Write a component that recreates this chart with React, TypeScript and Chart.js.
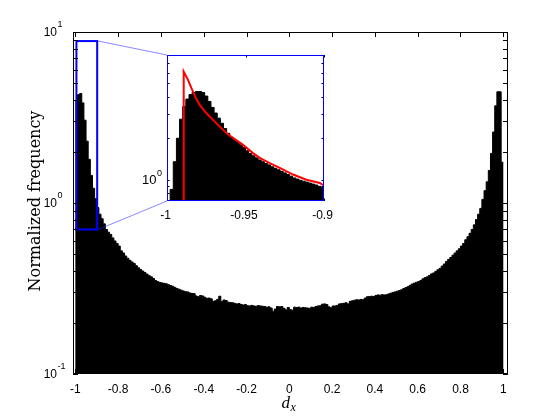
import React, { useEffect, useRef } from "react";
import { Chart, registerables } from "chart.js";

Chart.register(...registerables);

const W = 560;
const H = 420;

// ---------------- data ----------------
const MAIN_BIN_START = -1;
const MAIN_BIN_WIDTH = 0.01;
const MAIN_FREQ = [
  3.95, 4.3, 4.37, 3.85, 3.05, 2.3, 1.8, 1.45, 1.22, 1.06,
  0.94, 0.86, 0.81, 0.755, 0.7, 0.675, 0.655, 0.625, 0.6, 0.58,
  0.56, 0.525, 0.51, 0.49, 0.475, 0.462, 0.452, 0.443, 0.43, 0.418,
  0.408, 0.4, 0.392, 0.384, 0.376, 0.37, 0.362, 0.352, 0.347, 0.343,
  0.341, 0.339, 0.337, 0.333, 0.329, 0.326, 0.321, 0.316, 0.313, 0.309,
  0.306, 0.303, 0.302, 0.298, 0.296, 0.295, 0.286, 0.283, 0.288, 0.286,
  0.281, 0.277, 0.278, 0.275, 0.266, 0.268, 0.273, 0.285, 0.265, 0.271,
  0.269, 0.263, 0.262, 0.261, 0.259, 0.257, 0.258, 0.255, 0.253, 0.255,
  0.251, 0.25, 0.252, 0.25, 0.249, 0.251, 0.25, 0.249, 0.248, 0.246,
  0.247, 0.243, 0.233, 0.24, 0.248, 0.247, 0.248, 0.242, 0.237, 0.245,
  0.238, 0.236, 0.246, 0.245, 0.246, 0.243, 0.245, 0.244, 0.243, 0.242,
  0.246, 0.245, 0.248, 0.25, 0.251, 0.256, 0.257, 0.255, 0.247, 0.244,
  0.25, 0.25, 0.252, 0.257, 0.258, 0.259, 0.261, 0.257, 0.266, 0.268,
  0.27, 0.272, 0.271, 0.273, 0.272, 0.278, 0.283, 0.284, 0.285, 0.284,
  0.288, 0.29, 0.289, 0.291, 0.29, 0.291, 0.294, 0.297, 0.3, 0.302,
  0.305, 0.308, 0.311, 0.316, 0.32, 0.324, 0.33, 0.336, 0.34, 0.344,
  0.347, 0.352, 0.36, 0.366, 0.37, 0.377, 0.385, 0.39, 0.398, 0.407,
  0.415, 0.428, 0.44, 0.455, 0.468, 0.48, 0.495, 0.51, 0.525, 0.54,
  0.56, 0.58, 0.61, 0.635, 0.665, 0.7, 0.745, 0.8, 0.86, 0.93,
  1.05, 1.18, 1.33, 1.55, 1.95, 2.6, 3.7, 4.47, 4.47, 1.73,
];

const INSET_BIN_START = -1;
const INSET_BIN_WIDTH = 0.002;
const INSET_FREQ = [
  0.1, 0.85, 1.35, 2.0, 2.75, 3.4, 3.85, 4.15, 4.3, 4.37,
  4.37, 4.3, 4.05, 3.7, 3.35, 3.05, 2.8, 2.57, 2.35, 2.17,
  2.04, 1.95, 1.87, 1.79, 1.71, 1.62, 1.55, 1.49, 1.44, 1.39,
  1.35, 1.31, 1.28, 1.24, 1.21, 1.18, 1.15, 1.12, 1.09, 1.06,
  1.03, 1.01, 0.99, 0.975, 0.96, 0.945, 0.93, 0.915, 0.895, 0.88,
];

const FIT_X = [
  -0.98936, -0.98936, -0.98662, -0.98446, -0.98127, -0.97917, -0.9749,
  -0.9707, -0.96643, -0.96217, -0.95796, -0.95159, -0.94522, -0.94096,
  -0.93459, -0.92822, -0.91975, -0.91121, -0.90274, -0.9,
];
const FIT_Y = [
  0.704, 6.09, 5.31, 4.62, 3.85, 3.49, 3.04,
  2.72, 2.43, 2.18, 2.01, 1.79, 1.56, 1.44,
  1.32, 1.22, 1.09, 1.0, 0.946, 0.905,
];

const MAIN_X_MIN = -1.011;
const MAIN_X_MAX = 1.022;
const MAIN_Y_MIN = 0.1;
const MAIN_Y_MAX = 10;
const MAIN_X_TICKS = [-1, -0.8, -0.6, -0.4, -0.2, 0, 0.2, 0.4, 0.6, 0.8, 1];
const MAIN_X_LABELS = ["-1", "-0.8", "-0.6", "-0.4", "-0.2", "0", "0.2", "0.4", "0.6", "0.8", "1"];
const MAIN_Y_EXPONENTS = [-1, 0, 1];

const INSET_X_MIN = -1;
const INSET_X_MAX = -0.9;
const INSET_Y_MIN = 0.704;
const INSET_Y_MAX = 8.05;
const INSET_X_TICKS = [-1, -0.95, -0.9];
const INSET_X_LABELS = ["-1", "-0.95", "-0.9"];
const INSET_Y_EXPONENTS = [0];

const ZOOM_X = [-0.995, -0.898];
const ZOOM_Y = [0.7, 8.85];

const X_TITLE_MAIN = "d";
const X_TITLE_SUB = "x";
const Y_TITLE = "Normalized frequency";

// ---------------- layout ----------------
const MAIN_PAD = { left: 73, right: 52, top: 32, bottom: 46 };
const INSET_BOX = { left: 167, top: 55, right: 324, bottom: 201 };

const SANS = '"Liberation Sans", Arial, sans-serif';
const SERIF = '"DejaVu Serif", serif';
const MATH = '"Liberation Serif", "Times New Roman", serif';

// step points: one point at each bin's left edge plus the final right edge
function stepPoints(start: number, width: number, freq: number[]) {
  const pts = freq.map((v, i) => ({ x: start + i * width, y: v }));
  pts.push({ x: start + freq.length * width, y: freq[freq.length - 1] });
  return pts;
}

function logTickValues(min: number, max: number) {
  const out: number[] = [];
  const k0 = Math.floor(Math.log10(min));
  const k1 = Math.ceil(Math.log10(max));
  for (let k = k0; k <= k1; k++) {
    for (let m = 1; m <= 9; m++) {
      const v = m * Math.pow(10, k);
      if (v >= min * 0.9999 && v <= max * 1.0001) out.push(v);
    }
  }
  return out;
}

function drawPow10(
  ctx: CanvasRenderingContext2D,
  exp: number,
  xRight: number,
  y: number,
  big: number,
  small: number,
  baseOff: number,
  supOff: number
) {
  ctx.fillStyle = "#000";
  ctx.textBaseline = "alphabetic";
  ctx.font = `${big}px ${SANS}`;
  ctx.textAlign = "right";
  ctx.fillText("10", xRight, y + baseOff);
  ctx.font = `${small}px ${SANS}`;
  ctx.textAlign = "left";
  ctx.fillText(String(exp), xRight + 0.5, y + supOff);
}

// fills the area under a stepped histogram line as one single polygon (no seams)
const histFill = {
  id: "histFill",
  beforeDatasetDraw(chart: any, args: any) {
    const ds = chart.data.datasets[args.index];
    if (ds.label !== "histogram") return;
    const line = args.meta.dataset;
    const pts = args.meta.data;
    if (!line || !pts.length) return;
    const a = chart.chartArea;
    const ctx = chart.ctx;
    ctx.save();
    ctx.beginPath();
    ctx.rect(a.left, a.top, a.right - a.left, a.bottom - a.top);
    ctx.clip();
    ctx.beginPath();
    line.path(ctx);
    ctx.lineTo(pts[pts.length - 1].x, a.bottom + 2);
    ctx.lineTo(pts[0].x, a.bottom + 2);
    ctx.closePath();
    ctx.fillStyle = "#000";
    ctx.fill();
    ctx.restore();
  },
};

const mainDecor = {
  id: "mainDecor",
  afterDraw(chart: any) {
    const { ctx, chartArea: a, scales } = chart;
    const xs = scales.x;
    const ys = scales.y;
    ctx.save();

    const rx1 = xs.getPixelForValue(ZOOM_X[0]);
    const rx2 = xs.getPixelForValue(ZOOM_X[1]);
    const ry1 = ys.getPixelForValue(ZOOM_Y[1]);
    const ry2 = ys.getPixelForValue(ZOOM_Y[0]);

    // connector lines to the inset
    ctx.strokeStyle = "rgba(40,40,255,0.55)";
    ctx.lineWidth = 1;
    ctx.beginPath();
    ctx.moveTo(rx2 + 1, ry1);
    ctx.lineTo(INSET_BOX.left, INSET_BOX.top);
    ctx.moveTo(rx2 + 1, ry2);
    ctx.lineTo(INSET_BOX.left, INSET_BOX.bottom);
    ctx.stroke();

    // zoom rectangle
    ctx.strokeStyle = "#0000ff";
    ctx.lineWidth = 2;
    ctx.strokeRect(rx1, ry1, rx2 - rx1, ry2 - ry1);

    // frame
    ctx.strokeStyle = "#000";
    ctx.lineWidth = 1;
    ctx.strokeRect(a.left + 0.5, a.top + 0.5, a.right - a.left - 1, a.bottom - a.top - 1);

    // inward ticks
    const TL = 5;
    ctx.beginPath();
    for (const t of MAIN_X_TICKS) {
      const px = Math.round(xs.getPixelForValue(t)) + 0.5;
      ctx.moveTo(px, a.bottom);
      ctx.lineTo(px, a.bottom - TL);
      ctx.moveTo(px, a.top);
      ctx.lineTo(px, a.top + TL);
    }
    for (const v of logTickValues(MAIN_Y_MIN, MAIN_Y_MAX)) {
      const py = Math.round(ys.getPixelForValue(v)) + 0.5;
      ctx.moveTo(a.left, py);
      ctx.lineTo(a.left + TL, py);
      ctx.moveTo(a.right, py);
      ctx.lineTo(a.right - TL, py);
    }
    ctx.stroke();

    // x tick labels
    ctx.fillStyle = "#000";
    ctx.font = `12px ${SANS}`;
    ctx.textAlign = "center";
    ctx.textBaseline = "alphabetic";
    MAIN_X_TICKS.forEach((t, i) => {
      ctx.fillText(MAIN_X_LABELS[i], xs.getPixelForValue(t), a.bottom + 18.5);
    });

    // y tick labels
    for (const e of MAIN_Y_EXPONENTS) {
      const py = ys.getPixelForValue(Math.pow(10, e));
      drawPow10(ctx, e, 57, py, 12, 9, 3.5, -5);
    }

    // y title
    ctx.save();
    ctx.translate(39.5, (a.top + a.bottom) / 2 - 2);
    ctx.rotate(-Math.PI / 2);
    ctx.font = `16px ${SERIF}`;
    ctx.textAlign = "center";
    ctx.textBaseline = "alphabetic";
    ctx.fillText(Y_TITLE, 0, 0);
    ctx.restore();

    // x title d_x
    ctx.font = `italic 17px ${MATH}`;
    const wd = ctx.measureText(X_TITLE_MAIN).width;
    ctx.font = `italic 12px ${MATH}`;
    const wx = ctx.measureText(X_TITLE_SUB).width;
    const cx = xs.getPixelForValue(0) - 1;
    const x0 = cx - (wd + wx) / 2;
    ctx.textAlign = "left";
    ctx.font = `italic 17px ${MATH}`;
    ctx.fillText(X_TITLE_MAIN, x0, a.bottom + 34);
    ctx.font = `italic 12px ${MATH}`;
    ctx.fillText(X_TITLE_SUB, x0 + wd + 0.5, a.bottom + 36.5);

    ctx.restore();
  },
};

const insetDecor = {
  id: "insetDecor",
  beforeDatasetsDraw(chart: any) {
    const { ctx, chartArea: a } = chart;
    ctx.save();
    ctx.fillStyle = "#fff";
    ctx.fillRect(a.left, a.top, a.right - a.left, a.bottom - a.top);
    ctx.restore();
  },
  afterDraw(chart: any) {
    const { ctx, chartArea: a, scales } = chart;
    const xs = scales.x;
    const ys = scales.y;
    ctx.save();
    const TL = 2.5;
    ctx.strokeStyle = "#000";
    ctx.lineWidth = 1;
    ctx.beginPath();
    for (const t of INSET_X_TICKS) {
      const px = Math.round(xs.getPixelForValue(t)) + 0.5;
      ctx.moveTo(px, a.bottom);
      ctx.lineTo(px, a.bottom - TL);
      ctx.moveTo(px, a.top);
      ctx.lineTo(px, a.top + TL);
    }
    for (const v of logTickValues(INSET_Y_MIN, INSET_Y_MAX)) {
      const py = Math.round(ys.getPixelForValue(v)) + 0.5;
      ctx.moveTo(a.left, py);
      ctx.lineTo(a.left + TL, py);
      ctx.moveTo(a.right, py);
      ctx.lineTo(a.right - TL, py);
    }
    ctx.stroke();

    ctx.strokeStyle = "#0000ff";
    ctx.lineWidth = 1;
    ctx.strokeRect(a.left + 0.5, a.top + 0.5, a.right - a.left - 1, a.bottom - a.top - 1);

    ctx.fillStyle = "#000";
    ctx.font = `12px ${SANS}`;
    ctx.textAlign = "center";
    ctx.textBaseline = "alphabetic";
    INSET_X_TICKS.forEach((t, i) => {
      ctx.fillText(INSET_X_LABELS[i], xs.getPixelForValue(t) - 1.5, a.bottom + 18);
    });
    for (const e of INSET_Y_EXPONENTS) {
      const py = ys.getPixelForValue(Math.pow(10, e));
      drawPow10(ctx, e, 156.5, py, 13, 9, 4.5, -3.5);
    }
    ctx.restore();
  },
};

const histLineStyle = {
  label: "histogram",
  stepped: true,
  fill: false,
  borderColor: "#000",
  borderWidth: 1,
  pointRadius: 0,
  tension: 0,
};

export default function App() {
  const mainRef = useRef<HTMLCanvasElement>(null);
  const insetRef = useRef<HTMLCanvasElement>(null);

  useEffect(() => {
    const main = new Chart(mainRef.current as HTMLCanvasElement, {
      type: "line",
      data: {
        datasets: [
          {
            ...histLineStyle,
            data: stepPoints(MAIN_BIN_START, MAIN_BIN_WIDTH, MAIN_FREQ),
          },
        ],
      },
      options: {
        animation: false,
        responsive: false,
        devicePixelRatio: 1,
        events: [],
        layout: { padding: MAIN_PAD },
        scales: {
          x: { type: "linear", min: MAIN_X_MIN, max: MAIN_X_MAX, display: false },
          y: { type: "logarithmic", min: MAIN_Y_MIN, max: MAIN_Y_MAX, display: false },
        },
        plugins: { legend: { display: false }, tooltip: { enabled: false } },
      },
      plugins: [histFill, mainDecor],
    } as any);

    const inset = new Chart(insetRef.current as HTMLCanvasElement, {
      type: "line",
      data: {
        datasets: [
          {
            label: "fit",
            data: FIT_X.map((x, i) => ({ x, y: FIT_Y[i] })),
            borderColor: "#ff0000",
            borderWidth: 2,
            pointRadius: 0,
            tension: 0,
            fill: false,
          },
          {
            ...histLineStyle,
            data: stepPoints(INSET_BIN_START, INSET_BIN_WIDTH, INSET_FREQ),
          },
        ],
      },
      options: {
        animation: false,
        responsive: false,
        devicePixelRatio: 1,
        events: [],
        layout: {
          padding: {
            left: INSET_BOX.left,
            top: INSET_BOX.top,
            right: W - INSET_BOX.right,
            bottom: H - INSET_BOX.bottom,
          },
        },
        scales: {
          x: { type: "linear", min: INSET_X_MIN, max: INSET_X_MAX, display: false },
          y: { type: "logarithmic", min: INSET_Y_MIN, max: INSET_Y_MAX, display: false },
        },
        plugins: { legend: { display: false }, tooltip: { enabled: false } },
      },
      plugins: [insetDecor, histFill],
    } as any);

    return () => {
      main.destroy();
      inset.destroy();
    };
  }, []);

  return (
    <div style={{ position: "absolute", left: 0, top: 0, width: W, height: H, background: "#fff" }}>
      <canvas
        ref={mainRef}
        width={W}
        height={H}
        style={{ position: "absolute", left: 0, top: 0, width: W, height: H }}
      />
      <canvas
        ref={insetRef}
        width={W}
        height={H}
        style={{ position: "absolute", left: 0, top: 0, width: W, height: H, pointerEvents: "none" }}
      />
    </div>
  );
}
